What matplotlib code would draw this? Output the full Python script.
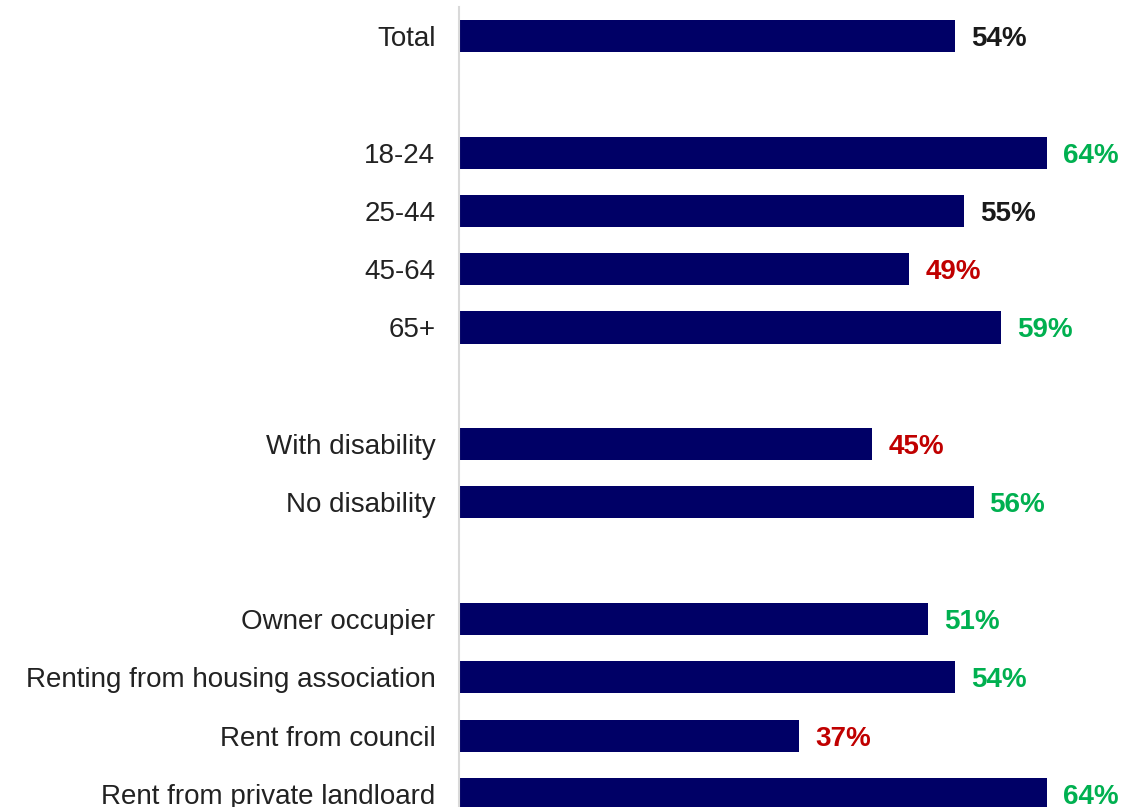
import matplotlib.pyplot as plt

plt.rcParams["font.family"] = ["Liberation Sans", "DejaVu Sans"]

# Groups of categories, each followed by a blank row in the chart
groups = [
    ["Total"],
    ["18-24", "25-44", "45-64", "65+"],
    ["With disability", "No disability"],
    ["Owner occupier", "Renting from housing association",
     "Rent from council", "Rent from private landloard"],
]
values = [54, 64, 55, 49, 59, 45, 56, 51, 54, 37, 64]
# significance versus the total: "up", "down" or "" for none
signif = ["", "up", "", "down", "up", "down", "up", "up", "up", "down", "up"]

sig_colours = {"up": "#00B050", "down": "#C00000", "": "#1A1A1A"}

labels = []
ypos = []
row = 0
for grp in groups:
    for name in grp:
        labels.append(name)
        ypos.append(row)
        row += 1
    row += 1

fig = plt.figure(figsize=(11.43, 8.07), dpi=100)
ax = fig.add_axes([459 / 1143, 0, 1 - 459 / 1143, 800 / 807])

ax.barh(ypos, values, height=0.55, color="#000066")

for y, v, s in zip(ypos, values, signif):
    ax.text(v + 1.75, y, f"{v}%", va="center_baseline", ha="left",
            fontsize=20, fontweight="bold", color=sig_colours[s])

ax.set_xlim(0, 684 / 9.1875)
ax.set_ylim(13.225, -0.497)
ax.set_yticks(ypos)
ax.set_yticklabels(labels, fontsize=20, color="#222222")
ax.tick_params(axis="y", length=0, pad=17)
ax.set_xticks([])

for side in ["top", "right", "bottom"]:
    ax.spines[side].set_visible(False)
ax.spines["left"].set_color("#D9D9D9")
ax.spines["left"].set_linewidth(1.5)

fig.savefig("out.png", dpi=100)
